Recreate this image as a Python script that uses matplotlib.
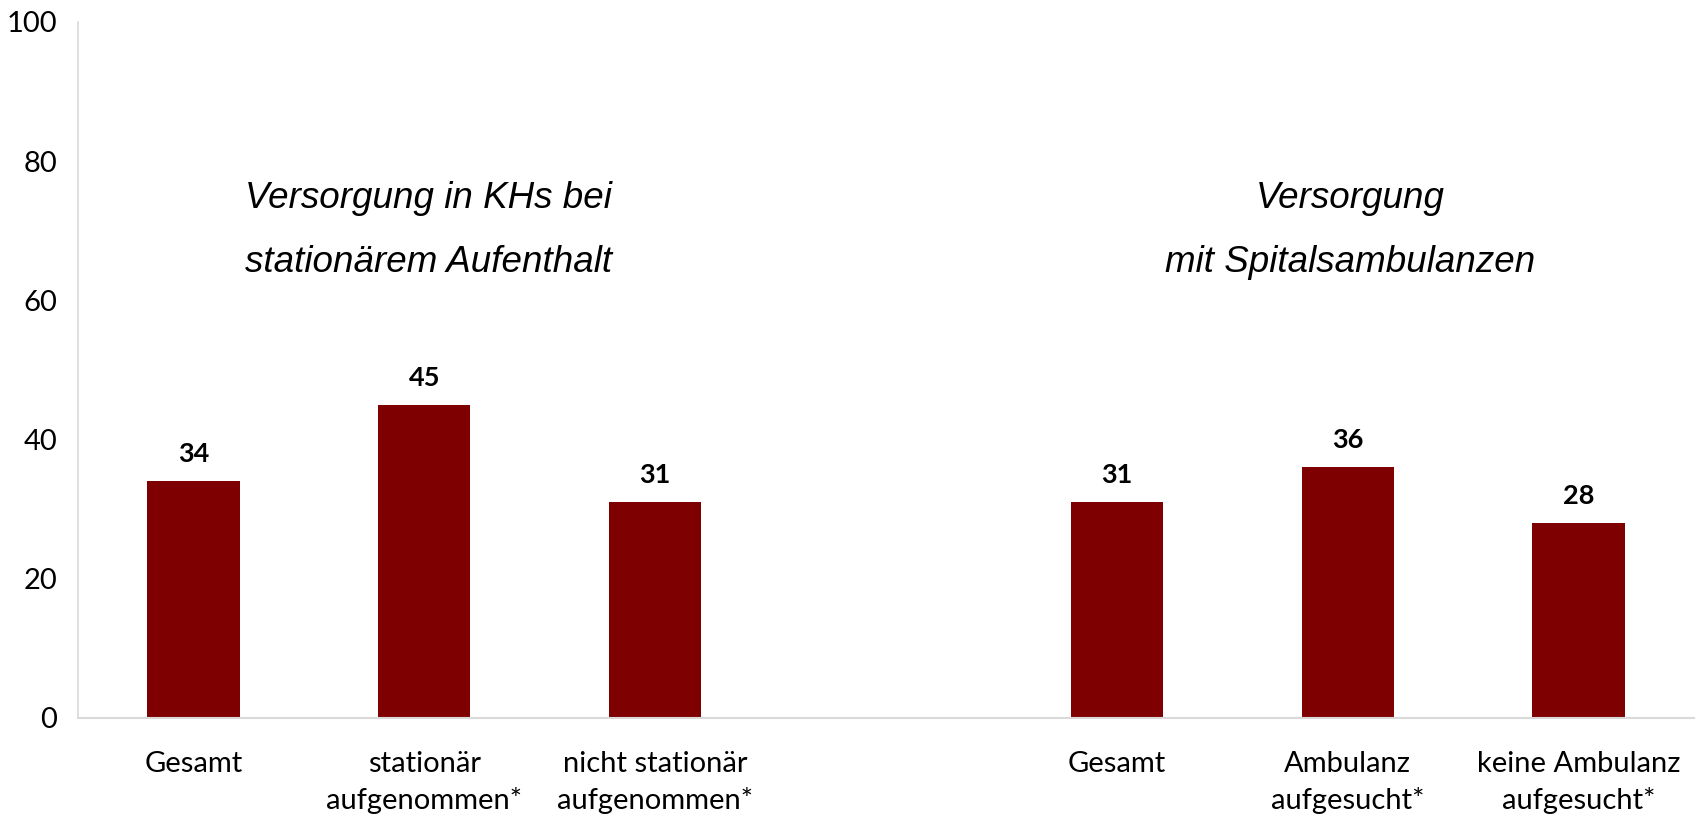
import matplotlib
matplotlib.use("Agg")
import matplotlib.pyplot as plt

categories = ["Gesamt", "stationär\naufgenommen*", "nicht stationär\naufgenommen*", "",
              "Gesamt", "Ambulanz\naufgesucht*", "keine Ambulanz\naufgesucht*"]
values = [34, 45, 31, None, 31, 36, 28]
group_titles = ["Versorgung in KHs bei\nstationärem Aufenthalt", "Versorgung\nmit Spitalsambulanzen"]
yticks = [0, 20, 40, 60, 80, 100]

bar_color = "#7F0000"

fig = plt.figure(figsize=(16.97, 8.16), dpi=100)
ax = fig.add_axes([78/1697, 1 - 718/816, (1694-78)/1697, (718-22)/816])

xs = [i for i, v in enumerate(values) if v is not None]
vs = [v for v in values if v is not None]
bars = ax.bar(xs, vs, width=0.40, color=bar_color, zorder=2)
for x, v in zip(xs, vs):
    ax.annotate(f"{v}", (x, v), xytext=(0, 11), textcoords="offset points",
                ha="center", va="bottom", fontsize=19.5, fontweight="bold",
                family="Lato", color="black")

ax.set_xlim(-0.5, len(categories) - 0.5)
ax.set_ylim(0, 100)
ax.set_yticks(yticks)
ax.set_yticklabels([str(t) for t in yticks], family="Lato", fontsize=21)
ax.set_xticks(range(len(categories)))
ax.set_xticklabels(categories, family="Lato", fontsize=21, linespacing=1.45, va="top")
ax.tick_params(axis="both", length=0)
ax.tick_params(axis="y", pad=15)
ax.tick_params(axis="x", pad=24)

for s in ["top", "right"]:
    ax.spines[s].set_visible(False)
ax.spines["left"].set_color("#D9D9D9")
ax.spines["bottom"].set_color("#D9D9D9")
ax.spines["left"].set_linewidth(1.2)
ax.spines["bottom"].set_linewidth(1.5)

title_kw = dict(ha="center", va="center", fontsize=26.5, style="italic", family="Liberation Sans")
ax.text(1.02, 74.7, group_titles[0].split("\n")[0], **title_kw)
ax.text(1.02, 65.4, group_titles[0].split("\n")[1], **title_kw)
ax.text(5.01, 74.7, group_titles[1].split("\n")[0], **title_kw)
ax.text(5.01, 65.4, group_titles[1].split("\n")[1], **title_kw)

fig.savefig("out.png", dpi=100)
